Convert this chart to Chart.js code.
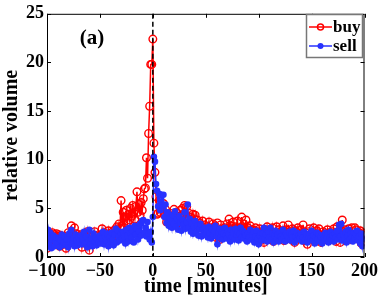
<!DOCTYPE html>
<html>
<head>
<meta charset="utf-8">
<script src="https://cdn.jsdelivr.net/npm/chart.js@4.4.1/dist/chart.umd.min.js"></script>
<style>
  html, body { margin: 0; padding: 0; background: #fff; }
  #wrap { width: 382px; height: 299px; }
</style>
</head>
<body>
<div id="wrap"><canvas id="grafica" width="382" height="299"></canvas></div>
<script>
// minutos relativos al evento
const minutos = Array.from({ length: 301 }, (_, i) => i - 100);

const compra = [
  0.9, 2.2, 1.5, 2.4, 1.2, 2.5, 1.8, 2.3, 1.4, 2.4,
  1.9, 2.3, 1.1, 2.2, 1.6, 2.0, 1.3, 2.1, 0.9, 1.7,
  2.5, 1.4, 2.0, 3.2, 1.6, 2.2, 3.0, 1.8, 2.4, 1.5,
  2.1, 1.6, 2.3, 1.0, 1.9, 2.2, 1.4, 1.8, 2.6, 1.2,
  0.7, 1.5, 2.2, 1.3, 1.9, 2.6, 1.5, 2.1, 1.7, 2.3,
  1.6, 2.2, 2.9, 1.8, 2.5, 1.5, 2.3, 1.9, 2.7, 1.6,
  2.2, 1.8, 2.6, 2.0, 2.8, 2.4, 3.1, 2.6, 3.4, 3.0,
  5.8, 3.2, 4.6, 3.0, 4.1, 4.8, 3.5, 4.4, 3.8, 5.0,
  4.2, 5.3, 4.5, 3.9, 5.2, 6.7, 4.6, 5.4, 4.3, 5.6,
  4.8, 6.0, 7.0, 7.1, 10.2, 8.1, 12.7, 15.5, 19.8, 19.8,
  22.4, 11.7, 8.7, 6.2, 4.4, 4.5, 5.8, 4.6, 5.2, 4.9,
  5.5, 4.3, 4.9, 3.6, 4.2, 3.8, 4.5, 3.5, 4.0, 3.3,
  4.9, 3.4, 4.6, 3.7, 4.2, 3.1, 4.8, 3.6, 5.0, 4.4,
  5.3, 3.9, 5.2, 4.0, 4.5, 3.4, 4.1, 3.2, 4.4, 3.6,
  4.3, 3.0, 3.8, 2.7, 3.5, 3.2, 2.6, 3.7, 2.9, 3.3,
  2.4, 3.1, 2.8, 3.6, 2.5, 3.0, 2.2, 3.4, 2.7, 3.2,
  2.0, 3.5, 2.6, 1.8, 3.3, 2.4, 2.9, 2.1, 3.0, 2.5,
  3.4, 2.7, 3.9, 2.3, 3.2, 2.6, 3.6, 2.0, 3.1, 2.8,
  3.7, 2.4, 3.0, 2.2, 4.1, 2.6, 3.4, 2.9, 3.8, 2.3,
  3.0, 2.1, 3.2, 2.5, 2.8, 1.9, 2.7, 3.0, 2.2, 2.6,
  2.0, 2.9, 1.7, 2.6, 2.3, 1.5, 2.8, 2.1, 3.1, 2.4,
  1.8, 2.7, 2.2, 3.0, 1.6, 2.5, 2.0, 3.1, 2.3, 2.8,
  1.9, 2.6, 2.1, 3.2, 1.7, 2.4, 2.8, 2.0, 3.3, 2.2,
  2.6, 1.8, 2.9, 2.3, 1.5, 2.7, 2.1, 3.0, 2.4, 1.9,
  2.8, 2.2, 3.3, 1.7, 2.5, 2.0, 1.3, 2.6, 2.9, 2.1,
  2.4, 1.8, 3.0, 2.2, 1.6, 2.7, 2.0, 2.9, 2.3, 1.5,
  2.1, 2.6, 1.8, 2.4, 2.0, 2.8, 1.7, 2.5, 2.2, 2.6,
  1.9, 2.9, 2.3, 1.6, 3.1, 2.4, 2.0, 1.5, 2.7, 3.8,
  2.3, 2.8, 1.9, 2.5, 2.1, 2.9, 2.4, 1.8, 3.0, 2.6,
  2.2, 3.0, 2.8, 1.9, 2.5, 2.1, 2.7, 1.4, 2.3, 2.5,
  2.4
];

const venta = [
  2.1, 2.8, 1.3, 2.5, 0.9, 1.8, 2.2, 1.1, 1.6, 2.0,
  1.4, 1.9, 1.0, 1.7, 2.3, 1.2, 1.5, 2.1, 1.3, 1.8,
  1.0, 2.4, 1.6, 2.8, 1.4, 1.9, 1.1, 2.3, 1.7, 1.2,
  2.0, 1.5, 2.2, 1.3, 1.8, 2.6, 1.4, 2.1, 1.0, 1.7,
  2.8, 1.3, 1.9, 1.1, 2.4, 1.6, 2.0, 1.2, 1.8, 1.5,
  2.2, 1.4, 1.9, 2.6, 1.3, 2.1, 1.7, 2.4, 1.1, 2.0,
  1.6, 2.5, 1.8, 1.2, 2.3, 2.9, 1.5, 2.7, 2.0, 1.7,
  2.4, 1.9, 2.6, 2.1, 1.4, 2.8, 2.2, 1.6, 3.0, 2.4,
  2.0, 2.7, 1.5, 3.2, 2.3, 2.9, 1.8, 2.6, 3.4, 2.2,
  3.7, 3.8, 2.5, 3.0, 2.1, 3.6, 2.4, 1.8, 2.6, 1.5,
  4.1, 10.3, 9.8, 7.5, 6.8, 5.2, 6.5, 4.8, 6.4, 5.3,
  6.4, 4.1, 5.4, 3.5, 4.6, 3.2, 4.0, 3.7, 3.0, 4.3,
  3.4, 4.7, 3.1, 3.9, 2.8, 4.2, 3.5, 2.7, 3.8, 3.3,
  4.6, 2.9, 3.6, 5.4, 3.0, 3.9, 2.6, 3.4, 2.4, 3.1,
  3.7, 2.5, 3.2, 2.2, 2.9, 3.4, 2.1, 2.8, 2.4, 3.0,
  2.3, 2.7, 2.0, 3.1, 2.4, 1.9, 2.8, 2.2, 2.6, 3.2,
  2.1, 1.3, 2.5, 2.9, 2.0, 2.6, 1.8, 2.4, 3.0, 2.2,
  1.9, 2.7, 2.3, 1.6, 2.8, 2.1, 2.5, 1.8, 2.9, 2.3,
  2.6, 1.7, 2.4, 3.0, 2.0, 2.7, 1.9, 2.5, 2.2, 1.6,
  2.4, 2.0, 2.8, 1.8, 2.3, 2.6, 1.5, 2.1, 2.7, 1.9,
  1.3, 2.2, 2.5, 1.7, 2.4, 3.0, 1.9, 2.3, 1.6, 2.6,
  2.0, 3.0, 1.8, 2.4, 1.5, 2.2, 2.7, 1.9, 2.3, 1.6,
  2.5, 2.1, 1.8, 2.8, 2.0, 1.6, 2.4, 2.2, 1.9, 2.6,
  1.7, 2.3, 2.0, 2.7, 1.5, 2.1, 2.5, 1.8, 2.2, 1.9,
  2.4, 1.6, 2.0, 2.6, 1.8, 2.3, 1.5, 2.1, 2.4, 1.9,
  2.7, 1.7, 2.2, 1.4, 2.0, 2.5, 1.8, 2.3, 1.6, 2.1,
  1.4, 2.2, 1.7, 2.5, 1.9, 2.3, 1.5, 2.0, 2.6, 1.8,
  2.2, 1.6, 2.4, 2.0, 2.7, 1.8, 3.3, 2.1, 3.4, 1.7,
  2.3, 1.9, 2.6, 1.5, 2.2, 2.8, 1.8, 2.4, 2.0, 1.6,
  2.5, 1.9, 2.3, 2.7, 1.7, 2.1, 1.4, 2.4, 1.1, 2.0,
  1.8
];

const ticksX = [-100, -50, 0, 50, 100, 150, 200];
const ticksY = [0, 5, 10, 15, 20, 25];

const ROJO = 'rgb(255,0,0)';
const AZUL = 'rgb(40,50,255)';
const fuente = 'Liberation Serif';

const marco = {
    id: 'marco',
    afterDraw(chart) {
        const { ctx, chartArea: a, scales } = chart;
        const sx = scales.x, sy = scales.y;
        ctx.save();
        // linea vertical en t = 0
        ctx.strokeStyle = '#000';
        ctx.lineWidth = 1.5;
        ctx.setLineDash([5, 3]);
        ctx.beginPath();
        ctx.moveTo(sx.getPixelForValue(0), a.top);
        ctx.lineTo(sx.getPixelForValue(0), a.bottom);
        ctx.stroke();
        ctx.setLineDash([]);
        // caja de ejes
        ctx.lineWidth = 1;
        ctx.strokeRect(a.left + 0.5, a.top + 0.5, a.right - a.left - 1, a.bottom - a.top - 1);
        // marcas hacia adentro
        ctx.beginPath();
        ticksX.forEach(v => {
            const px = Math.round(sx.getPixelForValue(v)) + 0.5;
            ctx.moveTo(px, a.bottom); ctx.lineTo(px, a.bottom - 4);
            ctx.moveTo(px, a.top); ctx.lineTo(px, a.top + 4);
        });
        ticksY.forEach(v => {
            const py = Math.round(sy.getPixelForValue(v)) + 0.5;
            ctx.moveTo(a.left, py); ctx.lineTo(a.left + 4, py);
            ctx.moveTo(a.right, py); ctx.lineTo(a.right - 4, py);
        });
        ctx.stroke();
        // etiqueta (a)
        ctx.fillStyle = '#000';
        ctx.font = `bold 21px "${fuente}"`;
        ctx.textAlign = 'center';
        ctx.textBaseline = 'middle';
        ctx.fillText('(a)', 92, 39);
        // leyenda
        const lx = 306, ly = 14, lw = 56, lh = 43;
        ctx.fillStyle = '#fff';
        ctx.fillRect(lx, ly, lw, lh);
        ctx.strokeStyle = '#777';
        ctx.lineWidth = 1.5;
        ctx.strokeRect(lx + 0.5, ly + 0.5, lw, lh);
        const filas = [
            { t: 'buy', c: ROJO, y: ly + 13, lleno: false },
            { t: 'sell', c: AZUL, y: ly + 32, lleno: true }
        ];
        filas.forEach(f => {
            ctx.strokeStyle = f.c;
            ctx.lineWidth = 1.5;
            ctx.beginPath();
            ctx.moveTo(lx + 3, f.y); ctx.lineTo(lx + 26, f.y);
            ctx.stroke();
            ctx.beginPath();
            ctx.arc(lx + 14.5, f.y, 3, 0, Math.PI * 2);
            if (f.lleno) { ctx.fillStyle = f.c; ctx.fill(); } else { ctx.stroke(); }
            ctx.fillStyle = '#000';
            ctx.font = `bold 17px "${fuente}"`;
            ctx.textAlign = 'left';
            ctx.fillText(f.t, lx + 27, f.y + 1);
        });
        ctx.restore();
    }
};

const ctx = document.getElementById('grafica').getContext('2d');

const grafica = new Chart(ctx, {
    type: 'line',
    data: {
        datasets: [{
            label: 'buy',
            data: minutos.map((m, i) => ({ x: m, y: compra[i] })),
            borderColor: ROJO,
            backgroundColor: 'rgba(0,0,0,0)',
            borderWidth: 1.5,
            pointRadius: 3.8,
            pointBorderWidth: 1.4,
            pointBorderColor: ROJO,
            pointBackgroundColor: 'rgba(0,0,0,0)',
            tension: 0,
            order: 1
        }, {
            label: 'sell',
            data: minutos.map((m, i) => ({ x: m, y: venta[i] })),
            borderColor: AZUL,
            backgroundColor: AZUL,
            borderWidth: 1.5,
            pointRadius: 3.3,
            pointBorderWidth: 0,
            pointBackgroundColor: AZUL,
            tension: 0,
            order: 0
        }]
    },
    options: {
        responsive: false,
        animation: false,
        layout: { padding: { top: 12, right: 15, left: 0, bottom: 0 } },
        plugins: { legend: { display: false }, tooltip: { enabled: false } },
        scales: {
            x: {
                type: 'linear',
                min: -100, max: 200,
                afterBuildTicks: s => { s.ticks = ticksX.map(v => ({ value: v })); },
                afterFit: s => { s.height = 42; },
                grid: { display: false, drawTicks: false },
                border: { display: false },
                ticks: {
                    color: '#000',
                    padding: 4,
                    maxRotation: 0,
                    font: { family: fuente, weight: 'bold', size: 18 },
                    callback: v => String(v).replace('-', '\u2212')
                },
                title: {
                    display: true,
                    text: 'time [minutes]',
                    color: '#000',
                    padding: { top: -4, bottom: 0 },
                    font: { family: fuente, weight: 'bold', size: 20 }
                }
            },
            y: {
                min: 0, max: 25,
                afterBuildTicks: s => { s.ticks = ticksY.map(v => ({ value: v })); },
                afterFit: s => { s.width = 47; },
                grid: { display: false, drawTicks: false },
                border: { display: false },
                ticks: {
                    color: '#000',
                    padding: 3,
                    font: { family: fuente, weight: 'bold', size: 18 }
                },
                title: {
                    display: true,
                    text: 'relative volume',
                    color: '#000',
                    padding: { top: 0, bottom: 0 },
                    font: { family: fuente, weight: 'bold', size: 20 }
                }
            }
        }
    },
    plugins: [marco]
});
</script>
</body>
</html>
